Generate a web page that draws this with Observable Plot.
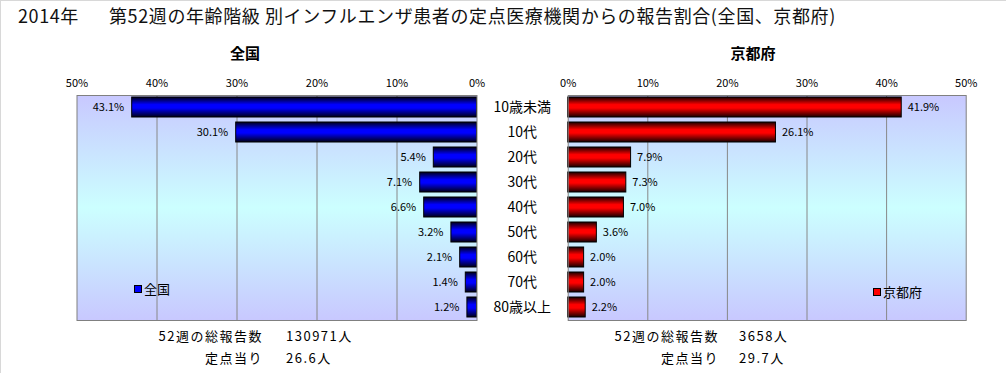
<!DOCTYPE html>
<html>
<head>
<meta charset="utf-8">
<script src="https://cdn.jsdelivr.net/npm/d3@7"></script>
<script src="https://cdn.jsdelivr.net/npm/@observablehq/plot@0.6"></script>
<style>
  body { margin: 0; background: #fff; font-family: "Noto Sans CJK JP", "Noto Sans", sans-serif; }
  #root { position: relative; width: 1006px; height: 373px; overflow: hidden; box-sizing: border-box; border-left: 1px solid #d8d8d8; border-top: 1px solid #d8d8d8; }
  .abs { position: absolute; white-space: nowrap; color: #000; line-height: 1; z-index: 5; }
  .title { font-size: 18px; top: 5px; letter-spacing: 0.6px; color: #111; }
  .ptitle { font-size: 15px; font-weight: bold; top: 44px; transform: translateX(-50%); }
  .foot { font-size: 13px; letter-spacing: 1.5px; }
  .right { transform: translateX(-100%); }
  .leg { font-size: 13px; display: flex; align-items: center; }
  .sw { width: 6px; height: 6px; border: 1px solid #000; margin-right: 2px; }
  svg { position: absolute; top: 40px; overflow: visible; z-index: 1; }
</style>
</head>
<body>
<div id="root">
  <div class="abs title" style="left:17px">2014年</div>
  <div class="abs title" style="left:108px">第52週の年齢階級 別インフルエンザ患者の定点医療機関からの報告割合(全国、京都府)</div>
  <div class="abs ptitle" style="left:244px">全国</div>
  <div class="abs ptitle" style="left:752px">京都府</div>
  <div class="abs leg" style="left:133px; top:281px"><div class="sw" style="background:#0000ff"></div>全国</div>
  <div class="abs leg" style="left:872px; top:284px"><div class="sw" style="background:#ff0000"></div>京都府</div>
  <div class="abs foot right" style="left:262px; top:328px">52週の総報告数</div>
  <div class="abs foot" style="left:285px; top:328px">130971人</div>
  <div class="abs foot right" style="left:262px; top:350px">定点当り</div>
  <div class="abs foot" style="left:285px; top:350px">26.6人</div>
  <div class="abs foot right" style="left:718px; top:328px">52週の総報告数</div>
  <div class="abs foot" style="left:738px; top:328px">3658人</div>
  <div class="abs foot right" style="left:718px; top:350px">定点当り</div>
  <div class="abs foot" style="left:738px; top:350px">29.7人</div>
</div>
<script>
const categories = ["10歳未満", "10代", "20代", "30代", "40代", "50代", "60代", "70代", "80歳以上"];
const nationalValues = [43.1, 30.1, 5.4, 7.1, 6.6, 3.2, 2.1, 1.4, 1.2];
const kyotoValues = [41.9, 26.1, 7.9, 7.3, 7.0, 3.6, 2.0, 2.0, 2.2];
const tickValues = [0, 10, 20, 30, 40, 50];
const gridValues = [10, 20, 30, 40];

const national = categories.map((c, i) => ({cat: c, v: nationalValues[i]}));
const kyoto = categories.map((c, i) => ({cat: c, v: kyotoValues[i]}));

function defs(svg, id, dark, bright) {
  d3.select(svg).insert("defs", ":first-child").html(`
    <linearGradient id="bg${id}" x1="0" y1="0" x2="0" y2="1">
      <stop offset="0" stop-color="#c8c8ff"/>
      <stop offset="0.5" stop-color="#ccffff"/>
      <stop offset="1" stop-color="#c8c8ff"/>
    </linearGradient>
    <linearGradient id="bar${id}" x1="0" y1="0" x2="0" y2="1">
      <stop offset="0" stop-color="${dark}"/>
      <stop offset="0.38" stop-color="${bright}"/>
      <stop offset="0.55" stop-color="${bright}"/>
      <stop offset="1" stop-color="${dark}"/>
    </linearGradient>`);
}

const yScale = {domain: categories, paddingInner: 0.2, paddingOuter: 0.1};
const common = {height: 285, marginTop: 54, marginBottom: 6, style: {fontFamily: "'Noto Sans CJK JP', sans-serif", color: "#000", background: "transparent", overflow: "visible"}};

const left = Plot.plot({
  ...common,
  width: 490, marginLeft: 75.5, marginRight: 14.5,
  x: {domain: [0, 50], reverse: true},
  y: {...yScale, axis: null},
  marks: [
    Plot.frame({fill: "url(#bgL)"}),
    Plot.gridX(gridValues, {stroke: "#888", strokeOpacity: 1}),
    Plot.barX(national, {x: "v", y: "cat", fill: "url(#barL)", stroke: "#000", strokeWidth: 1}),
    Plot.text(national, {x: "v", y: "cat", text: d => d.v.toFixed(1) + "%", textAnchor: "end", dx: -8, fontSize: 11, fill: "#000"}),
    Plot.frame({stroke: "#808080"}),
    Plot.axisX(tickValues, {anchor: "top", tickSize: 0, tickPadding: 9, tickFormat: d => d + "%", fontSize: 11, label: null})
  ]
});
defs(left, "L", "#000018", "#0000ff");
left.style.left = "0px";

const right = Plot.plot({
  ...common,
  width: 526, marginLeft: 86.7, marginRight: 41.3,
  x: {domain: [0, 50]},
  y: yScale,
  marks: [
    Plot.frame({fill: "url(#bgR)"}),
    Plot.gridX(gridValues, {stroke: "#888", strokeOpacity: 1}),
    Plot.barX(kyoto, {x: "v", y: "cat", fill: "url(#barR)", stroke: "#000", strokeWidth: 1}),
    Plot.text(kyoto, {x: "v", y: "cat", text: d => d.v.toFixed(1) + "%", textAnchor: "start", dx: 6, fontSize: 11, fill: "#000"}),
    Plot.frame({stroke: "#808080"}),
    Plot.axisX(tickValues, {anchor: "top", tickSize: 0, tickPadding: 9, tickFormat: d => d + "%", fontSize: 11, label: null}),
    Plot.axisY({anchor: "left", tickSize: 0, tickPadding: 46, textAnchor: "middle", fontSize: 14, label: null})
  ]
});
defs(right, "R", "#180000", "#ff0000");
right.style.left = "480px";

const root = document.getElementById("root");
root.appendChild(left);
root.appendChild(right);
</script>
</body>
</html>
